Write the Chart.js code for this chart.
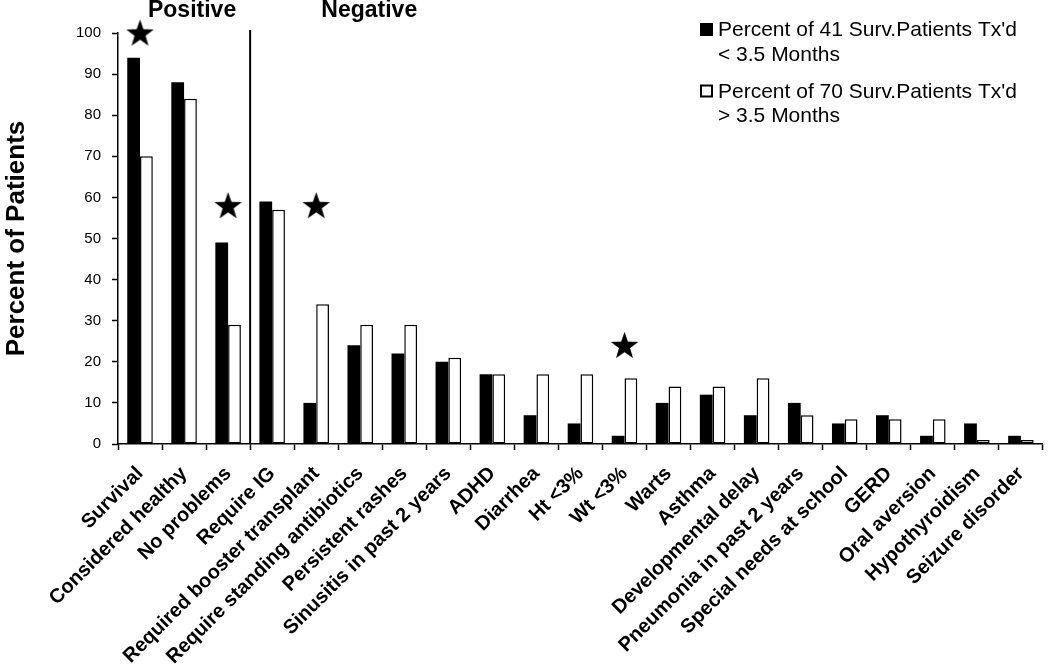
<!DOCTYPE html>
<html>
<head>
<meta charset="utf-8">
<script src="https://cdn.jsdelivr.net/npm/chart.js@4.4.0/dist/chart.umd.min.js"></script>
<style>
  html, body { margin: 0; padding: 0; background: #fff; }
  #chart { display: block; }
</style>
</head>
<body>
<canvas id="chart" width="1050" height="667"></canvas>
<script>
// Outcome categories (x axis)
const categories = [
    'Survival', 'Considered healthy', 'No problems', 'Require IG',
    'Required booster transplant', 'Require standing antibiotics', 'Persistent rashes',
    'Sinusitis in past 2 years', 'ADHD', 'Diarrhea', 'Ht <3%', 'Wt <3%', 'Warts',
    'Asthma', 'Developmental delay', 'Pneumonia in past 2 years',
    'Special needs at school', 'GERD', 'Oral aversion', 'Hypothyroidism', 'Seizure disorder'
];

// Percent of patients, treated early (< 3.5 months) and late (> 3.5 months)
const earlyTx = [94, 88, 49, 59, 10, 24, 22, 20, 17, 7, 5, 2, 10, 12, 7, 10, 5, 7, 2, 5, 2];
const lateTx = [70, 84, 29, 57, 34, 29, 29, 21, 17, 17, 17, 16, 14, 14, 16, 7, 6, 6, 6, 1, 1];

const yTicks = [0, 10, 20, 30, 40, 50, 60, 70, 80, 90, 100];

const earlyLabel = ["Percent of 41 Surv.Patients Tx'd", '< 3.5 Months'];
const lateLabel = ["Percent of 70 Surv.Patients Tx'd", '> 3.5 Months'];

// Significance stars
const starCategories = ['Survival', 'No problems', 'Required booster transplant', 'Wt <3%'];
const starValues = [100, 58, 58, 24];

const FONT = "'Liberation Sans', Arial, Helvetica, sans-serif";

// filled five-point star used as point style
function makeStar(size) {
    const c = document.createElement('canvas');
    c.width = size;
    c.height = size;
    const g = c.getContext('2d');
    const cx = size / 2, cy = size / 2 + 1;
    const outer = size / 2, inner = outer * 0.4;
    g.beginPath();
    for (let i = 0; i < 10; i++) {
        const r = i % 2 === 0 ? outer : inner;
        const a = -Math.PI / 2 + i * Math.PI / 5;
        g.lineTo(cx + r * Math.cos(a), cy + r * Math.sin(a));
    }
    g.closePath();
    g.fillStyle = '#000';
    g.fill();
    return c;
}

// Divider, group headers and the two-line legend
const annotations = {
    id: 'annotations',
    afterDraw(chart) {
        const { ctx, chartArea, scales: { x } } = chart;
        ctx.save();

        // divider between positive and negative outcomes
        const splitX = (x.getPixelForValue(2) + x.getPixelForValue(3)) / 2;
        ctx.strokeStyle = '#000';
        ctx.lineWidth = 2;
        ctx.beginPath();
        ctx.moveTo(splitX, chartArea.top - 3);
        ctx.lineTo(splitX, chartArea.bottom);
        ctx.stroke();

        // group headers
        ctx.fillStyle = '#000';
        ctx.font = 'bold 23px ' + FONT;
        ctx.textAlign = 'center';
        ctx.textBaseline = 'alphabetic';
        ctx.fillText('Positive', x.getPixelForValue(1) + 8, 17);
        ctx.fillText('Negative', x.getPixelForValue(5) + 9, 17);

        // legend
        const items = [
            { lines: earlyLabel, fill: '#000', top: 36 },
            { lines: lateLabel, fill: '#fff', top: 97.5 }
        ];
        ctx.textAlign = 'left';
        ctx.font = '21px ' + FONT;
        items.forEach(item => {
            ctx.fillStyle = item.fill;
            ctx.fillRect(700, item.top - 13, 13, 13);
            ctx.strokeStyle = '#000';
            ctx.lineWidth = 2;
            ctx.strokeRect(701, item.top - 12, 11, 11);
            ctx.fillStyle = '#000';
            item.lines.forEach((line, i) => {
                ctx.fillText(line, 718, item.top + i * 24.5);
            });
        });
        ctx.restore();
    }
};

const ctx = document.getElementById('chart');
new Chart(ctx, {
    type: 'bar',
    data: {
        labels: categories,
        datasets: [
            {
                type: 'line',
                label: 'Significant',
                data: starCategories.map((c, i) => ({ x: c, y: starValues[i] })),
                showLine: false,
                pointStyle: makeStar(29),
                clip: false
            },
            {
                label: earlyLabel.join(' '),
                data: earlyTx,
                backgroundColor: '#000',
                borderColor: '#000',
                borderWidth: 0,
                barPercentage: 1,
                categoryPercentage: 0.58
            },
            {
                label: lateLabel.join(' '),
                data: lateTx,
                backgroundColor: '#fff',
                borderColor: '#000',
                borderWidth: 1.5,
                borderSkipped: false,
                barPercentage: 1,
                categoryPercentage: 0.58
            }
        ]
    },
    options: {
        responsive: false,
        animation: false,
        devicePixelRatio: 1,
        layout: {
            padding: { top: 33, right: 1, left: 0, bottom: 0 }
        },
        plugins: {
            legend: { display: false },
            tooltip: { enabled: false }
        },
        scales: {
            x: {
                afterFit(scale) { scale.height = 223; },
                border: { display: true, color: '#000', width: 1.5 },
                grid: {
                    drawOnChartArea: false,
                    drawTicks: true,
                    tickLength: 6,
                    tickColor: '#000',
                    tickWidth: 1.5
                },
                ticks: {
                    autoSkip: false,
                    maxRotation: 45,
                    minRotation: 45,
                    padding: 12,
                    color: '#000',
                    font: { family: FONT, size: 20, weight: 'bold' }
                }
            },
            y: {
                min: yTicks[0],
                max: yTicks[yTicks.length - 1],
                afterFit(scale) { scale.width = 118; },
                border: { display: true, color: '#000', width: 1.5 },
                grid: {
                    drawOnChartArea: false,
                    drawTicks: true,
                    tickLength: 6,
                    tickColor: '#000',
                    tickWidth: 1.5
                },
                ticks: {
                    stepSize: yTicks[1] - yTicks[0],
                    padding: 11,
                    color: '#000',
                    font: { family: FONT, size: 15 }
                },
                title: {
                    display: true,
                    text: 'Percent of Patients',
                    color: '#000',
                    padding: { top: 1, bottom: 0 },
                    font: { family: FONT, size: 26, weight: 'bold' }
                }
            }
        }
    },
    plugins: [annotations]
});
</script>
</body>
</html>
